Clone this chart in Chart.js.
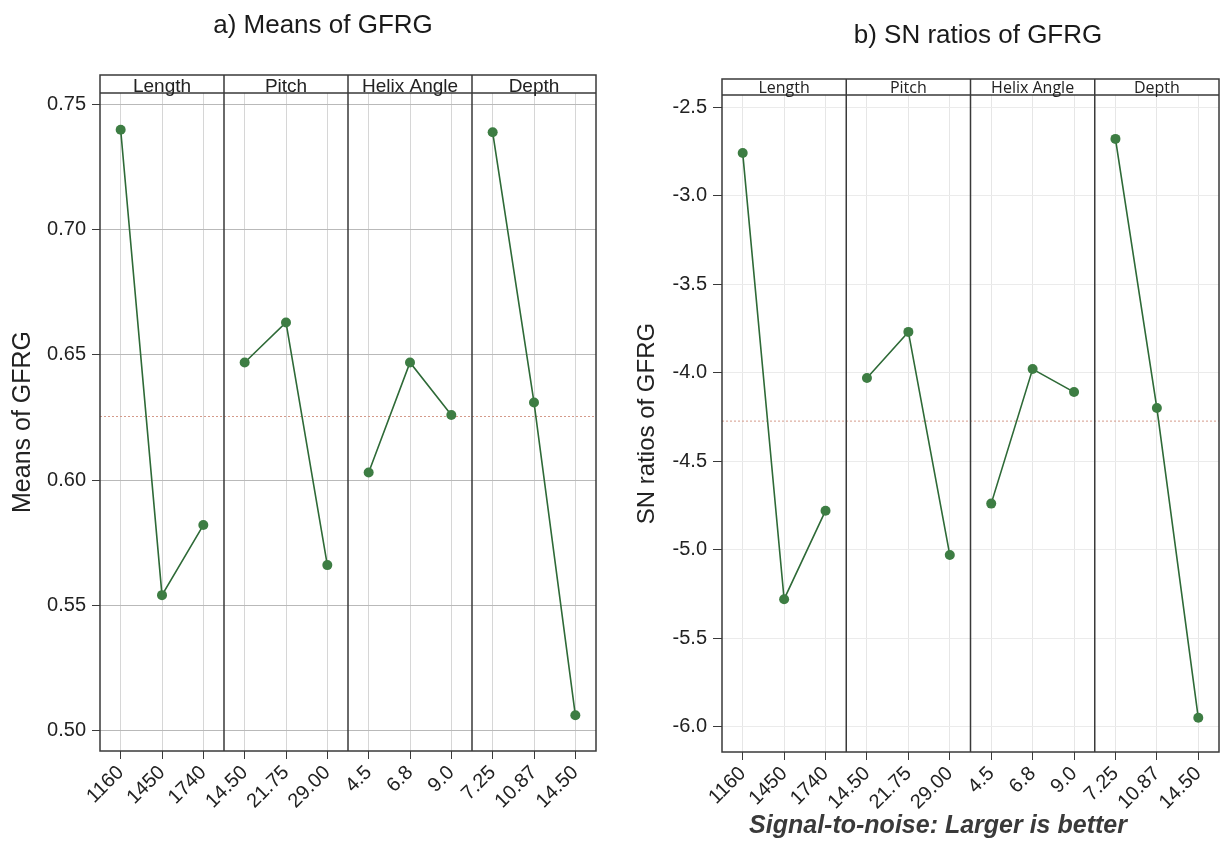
<!DOCTYPE html>
<html>
<head>
<meta charset="utf-8">
<script src="https://cdn.jsdelivr.net/npm/chart.js@4.4.1/dist/chart.umd.min.js"></script>
<style>
  html, body { margin: 0; padding: 0; background: #fff; }
  #wrap { position: relative; width: 1224px; height: 841px; }
  canvas { position: absolute; top: 0; }
  #meansChart { left: 0; }
  #snChart { left: 612px; }
</style>
</head>
<body>
<div id="wrap">
  <canvas id="meansChart" width="612" height="841"></canvas>
  <canvas id="snChart" width="612" height="841"></canvas>
</div>
<script>
// factors and their levels (3 levels each)
const factors = ['Length', 'Pitch', 'Helix Angle', 'Depth'];
const levels = ['1160', '1450', '1740', '14.50', '21.75', '29.00', '4.5', '6.8', '9.0', '7.25', '10.87', '14.50'];

// a) means of GFRG
const meanLength = [0.740, 0.554, 0.582];
const meanPitch = [0.647, 0.663, 0.566];
const meanHelix = [0.603, 0.647, 0.626];
const meanDepth = [0.739, 0.631, 0.506];
const meanGrand = 0.6254;
const meanTicks = [0.50, 0.55, 0.60, 0.65, 0.70, 0.75];

// b) SN ratios of GFRG
const snLength = [-2.76, -5.28, -4.78];
const snPitch = [-4.03, -3.77, -5.03];
const snHelix = [-4.74, -3.98, -4.11];
const snDepth = [-2.68, -4.20, -5.95];
const snGrand = -4.274;
const snTicks = [-6.0, -5.5, -5.0, -4.5, -4.0, -3.5, -3.0, -2.5];

const green = '#3d7d43';
const lineGreen = '#2e6a37';
const frameColor = '#3a3a3a';

// one dataset per factor, placed on its 3 slots of the shared category axis
function panelDatasets(series) {
    return series.map((vals, i) => {
        const d = levels.map(() => null);
        vals.forEach((v, j) => { d[i * 3 + j] = v; });
        return {
            label: factors[i],
            data: d,
            borderColor: lineGreen,
            borderWidth: 1.6,
            pointRadius: 5,
            pointBackgroundColor: green,
            pointBorderWidth: 0,
            tension: 0
        };
    });
}

// panel frame, header strip, grand mean line and free texts
const panelPlugin = {
    id: 'panels',
    beforeDatasetsDraw(chart, args, opts) {
        const { ctx, chartArea: a, scales } = chart;
        const x = scales.x, y = scales.y;
        ctx.save();

        // grand mean
        const ym = y.getPixelForValue(opts.grand);
        ctx.strokeStyle = '#d49a8a';
        ctx.lineWidth = 1;
        ctx.setLineDash([2, 2]);
        ctx.beginPath();
        ctx.moveTo(a.left, ym);
        ctx.lineTo(a.right, ym);
        ctx.stroke();
        ctx.setLineDash([]);

        // frame + strip
        const top = a.top - opts.strip;
        ctx.strokeStyle = frameColor;
        ctx.lineWidth = 1.5;
        ctx.strokeRect(a.left, top, a.right - a.left, a.bottom - top);
        ctx.beginPath();
        ctx.moveTo(a.left, a.top);
        ctx.lineTo(a.right, a.top);
        for (let i = 1; i < factors.length; i++) {
            const px = (x.getPixelForValue(i * 3 - 1) + x.getPixelForValue(i * 3)) / 2;
            ctx.moveTo(px, top);
            ctx.lineTo(px, a.bottom);
        }
        ctx.stroke();

        ctx.fillStyle = '#222';
        ctx.font = opts.stripFont;
        ctx.textAlign = 'center';
        ctx.textBaseline = 'alphabetic';
        factors.forEach((f, i) => {
            ctx.fillText(f, x.getPixelForValue(i * 3 + 1), a.top - opts.stripBase);
        });
        ctx.restore();
    },
    afterDraw(chart, args, opts) {
        const ctx = chart.ctx;
        ctx.save();
        ctx.textAlign = 'center';
        ctx.textBaseline = 'alphabetic';
        (opts.texts || []).forEach(t => {
            ctx.font = t.font;
            ctx.fillStyle = t.color;
            ctx.fillText(t.text, t.x, t.y);
        });
        ctx.restore();
    }
};

function makeChart(id, series, cfg) {
    return new Chart(document.getElementById(id), {
        type: 'line',
        data: { labels: levels, datasets: panelDatasets(series) },
        options: {
            responsive: false,
            animation: false,
            layout: { padding: { top: cfg.top, right: cfg.right, left: 0, bottom: 0 } },
            plugins: {
                legend: { display: false },
                tooltip: { enabled: false },
                panels: cfg.panels
            },
            scales: {
                x: {
                    type: 'category',
                    offset: true,
                    grid: { offset: false, color: cfg.vgrid, tickColor: frameColor, tickLength: 8 },
                    border: { display: false },
                    ticks: {
                        autoSkip: false,
                        minRotation: 45,
                        maxRotation: 45,
                        padding: 2,
                        color: '#222',
                        font: { family: 'Liberation Sans', size: 20 }
                    },
                    afterFit: s => { s.height = cfg.xHeight; }
                },
                y: {
                    min: cfg.min,
                    max: cfg.max,
                    afterBuildTicks: s => { s.ticks = cfg.ticks.map(v => ({ value: v })); },
                    grid: { color: cfg.hgrid, tickColor: frameColor, tickLength: cfg.tickLen },
                    border: { display: false },
                    ticks: {
                        padding: cfg.tickPad,
                        color: '#222',
                        font: { family: 'Liberation Sans', size: 20 },
                        callback: v => v.toFixed(cfg.digits)
                    },
                    title: {
                        display: true,
                        text: cfg.yTitle,
                        color: '#222',
                        font: { family: 'Liberation Sans', size: cfg.yTitleSize },
                        padding: { top: cfg.yTitlePad, bottom: 0 }
                    },
                    afterFit: s => { s.width = cfg.yWidth; }
                }
            }
        },
        plugins: [panelPlugin]
    });
}

makeChart('meansChart', [meanLength, meanPitch, meanHelix, meanDepth], {
    top: 93, right: 16, xHeight: 90, yWidth: 100,
    min: 0.4917, max: 0.7547, ticks: meanTicks, digits: 2,
    hgrid: '#b9b9b9', vgrid: '#d6d6d6', tickLen: 8, tickPad: 6,
    yTitle: 'Means of GFRG', yTitleSize: 25, yTitlePad: 8,
    panels: {
        grand: meanGrand, strip: 18, stripBase: 1,
        stripFont: '19px "Liberation Sans"',
        texts: [
            { text: 'a) Means of GFRG', x: 323, y: 33, font: '26px "Liberation Sans"', color: '#1a1a1a' }
        ]
    }
});

makeChart('snChart', [snLength, snPitch, snHelix, snDepth], {
    top: 95, right: 1, xHeight: 89, yWidth: 110,
    min: -6.143, max: -2.432, ticks: snTicks, digits: 1,
    hgrid: '#ebebeb', vgrid: '#e6e6e6', tickLen: 9, tickPad: 6,
    yTitle: 'SN ratios of GFRG', yTitleSize: 24, yTitlePad: 21,
    panels: {
        grand: snGrand, strip: 16, stripBase: 2,
        stripFont: '16px "Open Sans"',
        texts: [
            { text: 'b) SN ratios of GFRG', x: 366, y: 43, font: '26px "Liberation Sans"', color: '#1a1a1a' },
            { text: 'Signal-to-noise: Larger is better', x: 326, y: 833, font: 'italic bold 25px "Liberation Sans"', color: '#3a3a3a' }
        ]
    }
});
</script>
</body>
</html>
